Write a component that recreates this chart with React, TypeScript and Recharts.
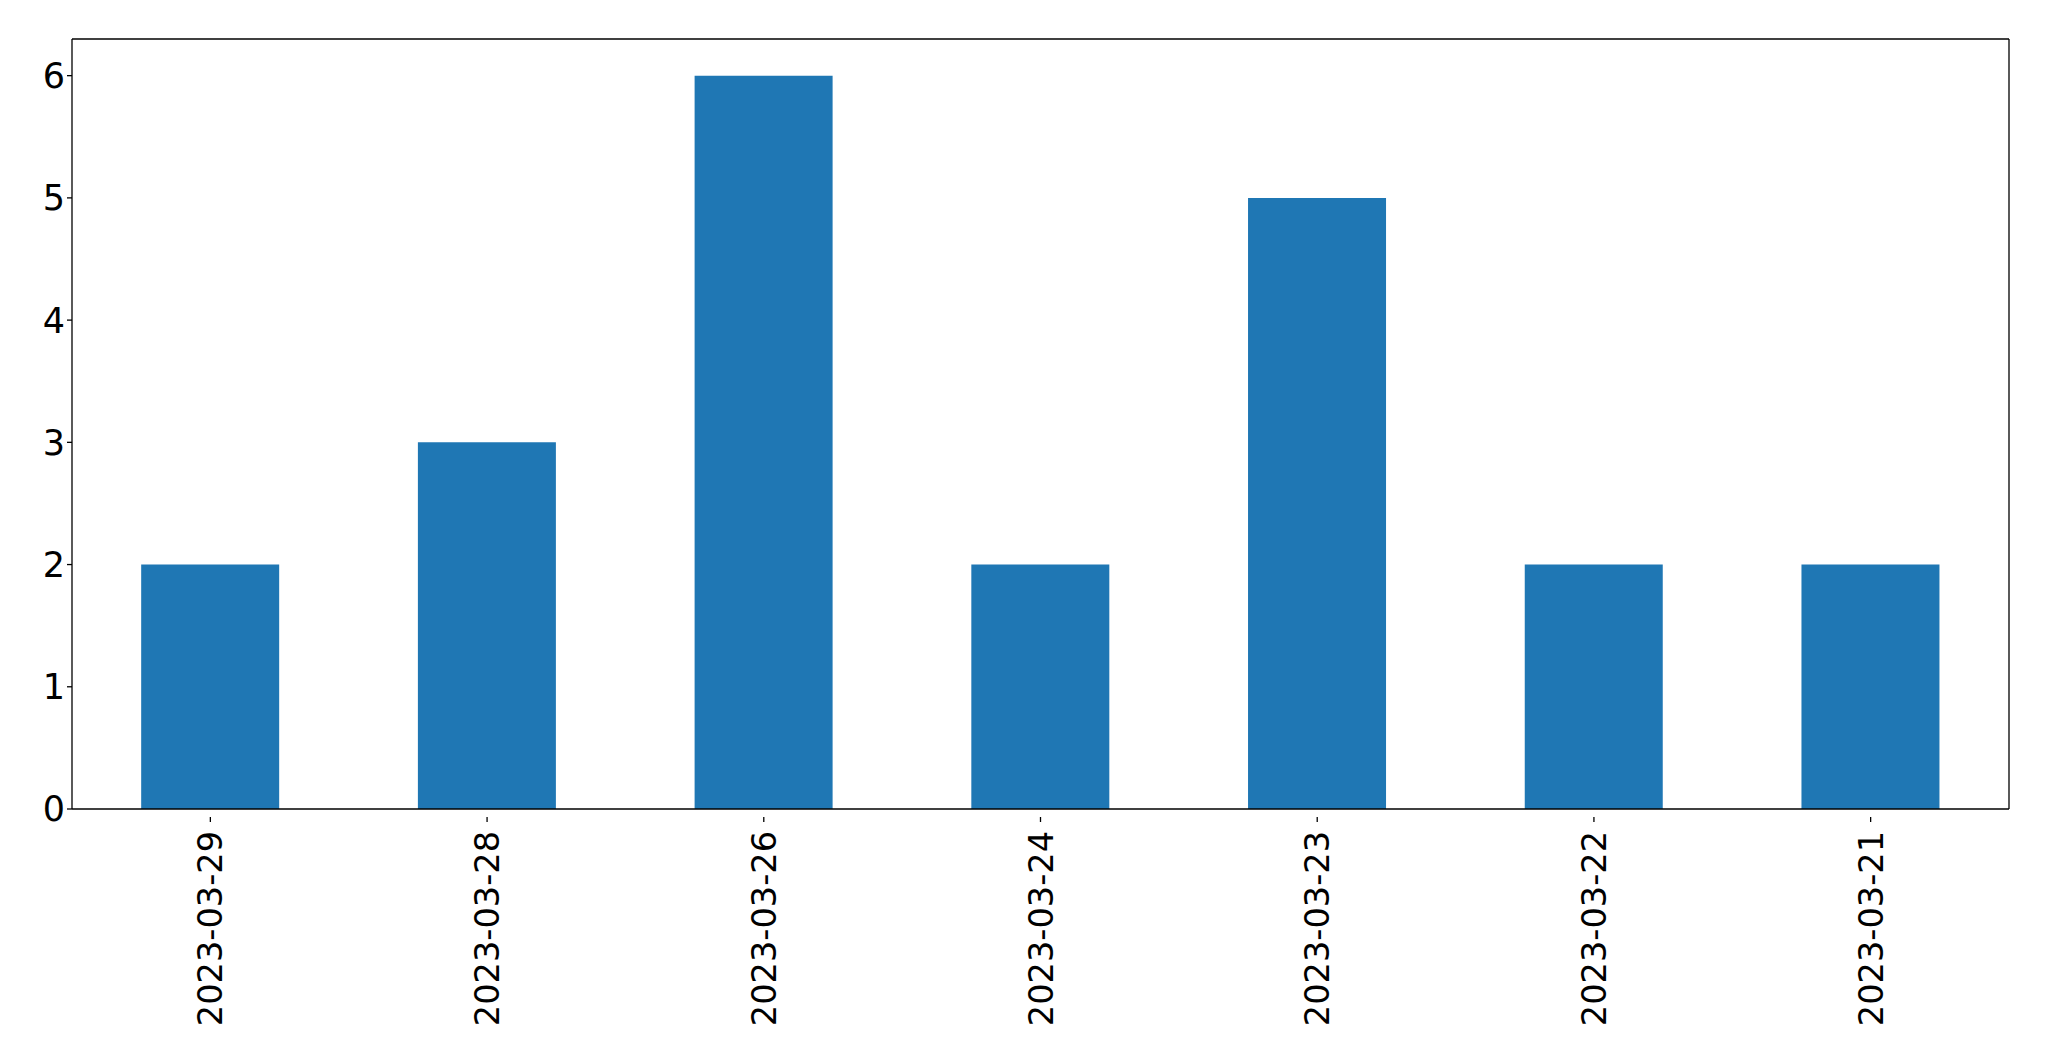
import React from 'react';
import { BarChart, Bar, XAxis, YAxis } from 'recharts';

const dates = ['2023-03-29', '2023-03-28', '2023-03-26', '2023-03-24', '2023-03-23', '2023-03-22', '2023-03-21'];
const counts = [2, 3, 6, 2, 5, 2, 2];
const yTicks = [0, 1, 2, 3, 4, 5, 6];

const data = dates.map((d, i) => ({ date: d, count: counts[i] }));

const FONT = '"DejaVu Sans", sans-serif';
const FSX = 33.6;
const FSY = 35;

const XTick = (props: any) => {
  const { x, y, payload } = props;
  return (
    <g transform={`translate(${x},${y})`}>
      <line x1={0} y1={0} x2={0} y2={5} stroke="#000" strokeWidth={1.3} />
      <text
        x={0}
        y={0}
        transform="translate(0,14) rotate(-90)"
        textAnchor="end"
        dy="0.36em"
        fontSize={FSX}
        fontFamily={FONT}
        fill="#000"
      >
        {payload.value}
      </text>
    </g>
  );
};

export default function App() {
  return (
    <div style={{ position: 'absolute', left: 0, top: 0, width: 2049, height: 1061, background: '#fff' }}>
      <BarChart
        width={2049}
        height={1061}
        data={data}
        margin={{ top: 38, right: 39, bottom: 0, left: 0 }}
        barCategoryGap="25%"
      >
        <XAxis
          dataKey="date"
          xAxisId="main"
          height={252}
          interval={0}
          tickLine={false}
          tick={<XTick />}
          axisLine={{ stroke: '#000', strokeWidth: 1.3 }}
        />
        <XAxis
          dataKey="date"
          xAxisId="top"
          orientation="top"
          height={1}
          tick={false}
          tickLine={false}
          axisLine={{ stroke: '#000', strokeWidth: 1.3 }}
        />
        <YAxis
          yAxisId="main"
          width={72}
          domain={[0, 6.3]}
          ticks={yTicks}
          tickSize={5}
          tickMargin={2}
          tickLine={{ stroke: '#000', strokeWidth: 1.3 }}
          axisLine={{ stroke: '#000', strokeWidth: 1.3 }}
          tick={{ fontSize: FSY, fontFamily: FONT, fill: '#000' }}
          allowDataOverflow
        />
        <YAxis
          yAxisId="right"
          orientation="right"
          width={1}
          domain={[0, 6.3]}
          tick={false}
          tickLine={false}
          axisLine={{ stroke: '#000', strokeWidth: 1.3 }}
        />
        <Bar dataKey="count" xAxisId="main" yAxisId="main" fill="#1f77b4" isAnimationActive={false} />
      </BarChart>
    </div>
  );
}
